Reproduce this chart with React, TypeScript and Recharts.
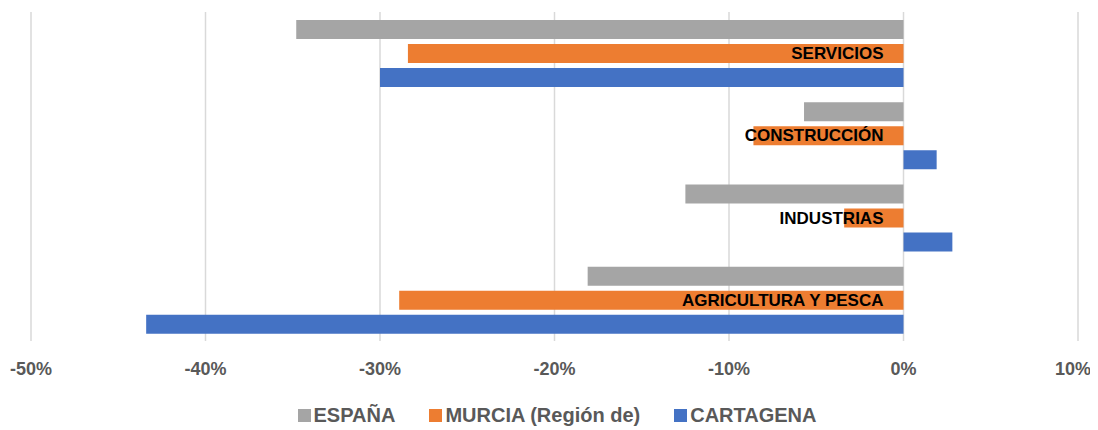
import { BarChart, Bar, XAxis, YAxis, CartesianGrid, LabelList } from "recharts";

const categories = ["SERVICIOS", "CONSTRUCCIÓN", "INDUSTRIAS", "AGRICULTURA Y PESCA"];
const espana = [-34.8, -5.7, -12.5, -18.1];
const murcia = [-28.4, -8.6, -3.4, -28.9];
const cartagena = [-30.0, 1.9, 2.8, -43.4];
const xTicks = [-50, -40, -30, -20, -10, 0, 10];

const data = categories.map((name, i) => ({
  name,
  espana: espana[i],
  murcia: murcia[i],
  cartagena: cartagena[i],
}));

const series = [
  { key: "espana", name: "ESPAÑA", color: "#A5A5A5" },
  { key: "murcia", name: "MURCIA (Región de)", color: "#ED7D31" },
  { key: "cartagena", name: "CARTAGENA", color: "#4472C4" },
];

const FONT = '"Liberation Sans", Arial, sans-serif';

// category name drawn just left of the zero line, like Excel's "next to axis" labels
const CategoryLabel = (props: any) => {
  const { x, y, width, height, value } = props;
  const right = Math.max(x, x + width);
  return (
    <text
      x={right - 20}
      y={y + height / 2}
      textAnchor="end"
      dominantBaseline="central"
      fontFamily={FONT}
      fontWeight="bold"
      fontSize={17}
      fill="#000"
    >
      {value}
    </text>
  );
};

// last tick nudged in a little so it stays inside the page
const XTick = (props: any) => {
  const { x, y, payload, index } = props;
  const last = index === xTicks.length - 1;
  return (
    <text
      x={last ? x - 5 : x}
      y={y}
      dy="0.71em"
      textAnchor="middle"
      fontFamily={FONT}
      fontWeight="bold"
      fontSize={18}
      fill="#595959"
    >
      {`${payload.value}%`}
    </text>
  );
};

export default function App() {
  return (
    <div style={{ position: "relative", width: 1082, height: 420, fontFamily: FONT }}>
      <BarChart
        width={1082}
        height={380}
        data={data}
        layout="vertical"
        margin={{ top: 4, right: 12, left: 23, bottom: 7 }}
        barSize={19}
        barGap={5}
      >
        <CartesianGrid horizontal={false} stroke="#D9D9D9" strokeWidth={1.5} />
        <XAxis
          type="number"
          domain={[-50, 10]}
          ticks={xTicks}
          axisLine={false}
          tickLine={false}
          tickSize={0}
          tickMargin={21}
          height={40}
          tick={<XTick />}
        />
        <YAxis type="category" dataKey="name" hide width={0} />
        {series.map((s) => (
          <Bar key={s.key} dataKey={s.key} name={s.name} fill={s.color} isAnimationActive={false}>
            {s.key === "murcia" && <LabelList dataKey="name" content={CategoryLabel} />}
          </Bar>
        ))}
      </BarChart>
      <div
        style={{
          position: "absolute",
          left: 0,
          top: 395,
          width: 1082,
          height: 24,
          display: "flex",
          justifyContent: "center",
          alignItems: "center",
          paddingLeft: 16,
          boxSizing: "border-box",
          fontSize: 20,
          fontWeight: "bold",
          color: "#595959",
        }}
      >
        {series.map((s) => (
          <div key={s.key} style={{ display: "flex", alignItems: "center", margin: "0 17px" }}>
            <span style={{ width: 13, height: 13, background: s.color, marginRight: 3, display: "inline-block" }} />
            <span>{s.name}</span>
          </div>
        ))}
      </div>
    </div>
  );
}
